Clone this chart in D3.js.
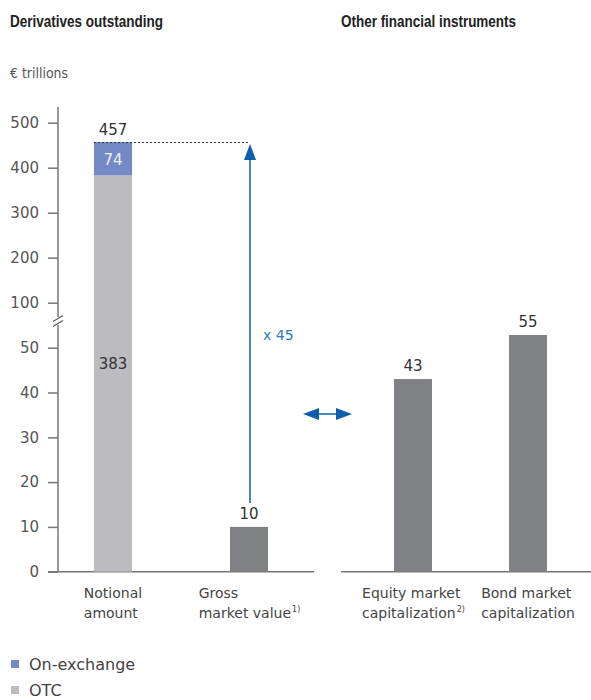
<!DOCTYPE html>
<html>
<head>
<meta charset="utf-8">
<script src="https://cdn.jsdelivr.net/npm/d3@7"></script>
<style>
  body { margin: 0; background: #fff; }
  svg text { font-family: "DejaVu Sans", sans-serif; }
  .title { font-family: "Liberation Sans", sans-serif !important; font-weight: bold; font-size: 16px; fill: #222; }
</style>
</head>
<body>
<div id="chart"></div>
<script>
// Data
const leftCategories = ["Notional amount", "Gross market value"];
const rightCategories = ["Equity market capitalization", "Bond market capitalization"];
const otcValues = [383, 0];
const exchangeValues = [74, 0];
const grossValues = [0, 10];
const otherValues = [43, 55];
const yTicks = [0, 10, 20, 30, 40, 50, 100, 200, 300, 400, 500];
const multiple = "x 45";

const labelLines = {
  "Notional amount": [["Notional"], ["amount"]],
  "Gross market value": [["Gross"], ["market value", "1)"]],
  "Equity market capitalization": [["Equity market"], ["capitalization", "2)"]],
  "Bond market capitalization": [["Bond market"], ["capitalization"]]
};

const colors = { exchange: "#7589c7", otc: "#bcbcc0", dark: "#808184", blue: "#0d5fae", blueText: "#2a7cc4" };

const width = 591, height = 700;

const svg = d3.select("#chart")
  .append("svg")
  .attr("width", width)
  .attr("height", height);

// Broken y scale: 0-50 linear, compressed break, then 100-500
const y = d3.scaleLinear()
  .domain([0, 50, 55, 100, 500])
  .range([571.7, 347.7, 335, 302.7, 122.7]);

const xLeft = d3.scaleBand()
  .domain(leftCategories)
  .range([48, 314])
  .paddingInner(0.72)
  .paddingOuter(0.338);

const xRight = d3.scaleBand()
  .domain(rightCategories)
  .range([341, 600])
  .paddingInner(0.67)
  .paddingOuter(0.461);

// Titles
svg.append("text").attr("class", "title").attr("x", 10).attr("y", 27)
  .attr("textLength", 153).attr("lengthAdjust", "spacingAndGlyphs").text("Derivatives outstanding");
svg.append("text").attr("class", "title").attr("x", 341).attr("y", 27)
  .attr("textLength", 175).attr("lengthAdjust", "spacingAndGlyphs").text("Other financial instruments");
svg.append("text").attr("x", 10).attr("y", 78).attr("font-size", 14.5).attr("fill", "#555")
  .attr("textLength", 58).attr("lengthAdjust", "spacingAndGlyphs").text("€ trillions");

// Y axis
const axisX = 58;
const axisG = svg.append("g")
  .attr("transform", `translate(${axisX},0)`)
  .call(d3.axisLeft(y).tickValues(yTicks).tickSize(10).tickPadding(9));
axisG.select(".domain").remove();
axisG.selectAll(".tick line").attr("stroke", "#777").attr("stroke-width", 1.5);
axisG.selectAll(".tick text")
  .attr("font-family", "DejaVu Sans, sans-serif")
  .attr("font-size", 15)
  .attr("fill", "#555");

// axis line with break
const breakY = 321;
svg.append("line").attr("x1", axisX).attr("x2", axisX).attr("y1", y(0)).attr("y2", breakY + 4)
  .attr("stroke", "#777").attr("stroke-width", 1.5);
svg.append("line").attr("x1", axisX).attr("x2", axisX).attr("y1", breakY - 4).attr("y2", 107)
  .attr("stroke", "#777").attr("stroke-width", 1.5);
[-2.5, 2.5].forEach(off => {
  svg.append("line")
    .attr("x1", axisX - 5).attr("y1", breakY + off + 3)
    .attr("x2", axisX + 5).attr("y2", breakY + off - 3)
    .attr("stroke", "#555").attr("stroke-width", 1.1);
});

// baselines
svg.append("line").attr("x1", 48).attr("x2", 314).attr("y1", y(0)).attr("y2", y(0))
  .attr("stroke", "#777").attr("stroke-width", 1.5);
svg.append("line").attr("x1", 341).attr("x2", 591).attr("y1", y(0)).attr("y2", y(0))
  .attr("stroke", "#777").attr("stroke-width", 1.5);

// Left bars: stacked notional
const leftG = svg.append("g");
leftCategories.forEach((c, i) => {
  const x0 = xLeft(c), bw = xLeft.bandwidth();
  if (otcValues[i] > 0) {
    leftG.append("rect").attr("x", x0).attr("width", bw)
      .attr("y", y(otcValues[i])).attr("height", y(0) - y(otcValues[i]))
      .attr("fill", colors.otc);
    const top = otcValues[i] + exchangeValues[i];
    leftG.append("rect").attr("x", x0).attr("width", bw)
      .attr("y", y(top)).attr("height", y(otcValues[i]) - y(top))
      .attr("fill", colors.exchange);
    leftG.append("text").attr("x", x0 + bw / 2).attr("y", (y(top) + y(otcValues[i])) / 2 + 6)
      .attr("text-anchor", "middle").attr("font-size", 15).attr("fill", "#eef0f8")
      .text(exchangeValues[i]);
    leftG.append("text").attr("x", x0 + bw / 2).attr("y", y(46.4) + 5.5)
      .attr("text-anchor", "middle").attr("font-size", 15).attr("fill", "#333")
      .text(otcValues[i]);
    leftG.append("text").attr("x", x0 + bw / 2).attr("y", y(top) - 7)
      .attr("text-anchor", "middle").attr("font-size", 15).attr("fill", "#333")
      .text(top);
  }
  if (grossValues[i] > 0) {
    leftG.append("rect").attr("x", x0).attr("width", bw)
      .attr("y", y(grossValues[i])).attr("height", y(0) - y(grossValues[i]))
      .attr("fill", colors.dark);
    leftG.append("text").attr("x", x0 + bw / 2).attr("y", y(grossValues[i]) - 8)
      .attr("text-anchor", "middle").attr("font-size", 15).attr("fill", "#333")
      .text(grossValues[i]);
  }
});

// Right bars
svg.append("g").selectAll("rect")
  .data(rightCategories)
  .join("rect")
  .attr("x", d => xRight(d))
  .attr("width", xRight.bandwidth())
  .attr("y", (d, i) => y(otherValues[i]))
  .attr("height", (d, i) => y(0) - y(otherValues[i]))
  .attr("fill", colors.dark);
svg.append("g").selectAll("text")
  .data(rightCategories)
  .join("text")
  .attr("x", d => xRight(d) + xRight.bandwidth() / 2)
  .attr("y", (d, i) => y(otherValues[i]) - 8)
  .attr("text-anchor", "middle").attr("font-size", 15).attr("fill", "#333")
  .text((d, i) => otherValues[i]);

// Category labels: left aligned lines, block centred on bar
function catLabel(scale, c) {
  const cx = scale(c) + scale.bandwidth() / 2;
  const g = svg.append("g");
  const lines = labelLines[c];
  const texts = lines.map((parts, li) => {
    const t = g.append("text").attr("y", 598 + li * 20).attr("font-size", 14).attr("fill", "#444");
    t.append("tspan").text(parts[0]);
    if (parts[1]) {
      t.append("tspan").attr("font-size", 8).attr("dx", 1).attr("dy", -6).text(parts[1]);
    }
    return t;
  });
  const w = d3.max(texts, t => t.node().getComputedTextLength());
  texts.forEach(t => t.attr("x", cx - w / 2));
}
leftCategories.forEach(c => catLabel(xLeft, c));
rightCategories.forEach(c => catLabel(xRight, c));

// Dotted line from top of notional bar to arrow
const totalTop = otcValues[0] + exchangeValues[0];
const arrowX = xLeft(leftCategories[1]) + xLeft.bandwidth() / 2 + 1;
svg.append("line")
  .attr("x1", xLeft(leftCategories[0])).attr("x2", arrowX)
  .attr("y1", y(totalTop) + 0.5).attr("y2", y(totalTop) + 0.5)
  .attr("stroke", "#333").attr("stroke-width", 1).attr("stroke-dasharray", "2,2");

// Vertical arrow
svg.append("line")
  .attr("x1", arrowX).attr("x2", arrowX)
  .attr("y1", y(grossValues[1]) - 24).attr("y2", y(totalTop) + 16)
  .attr("stroke", colors.blue).attr("stroke-width", 1.5);
const tipY = y(totalTop) + 2;
svg.append("path")
  .attr("d", `M${arrowX},${tipY} L${arrowX - 6},${tipY + 16} L${arrowX + 6},${tipY + 16} Z`)
  .attr("fill", colors.blue);
svg.append("text").attr("x", arrowX + 13).attr("y", 340)
  .attr("font-size", 14).attr("fill", colors.blueText).text(multiple);

// Double arrow between panels
const dy = 414, dx0 = 303, dx1 = 352;
svg.append("line").attr("x1", dx0 + 10).attr("x2", dx1 - 10).attr("y1", dy).attr("y2", dy)
  .attr("stroke", colors.blue).attr("stroke-width", 1.5);
svg.append("path")
  .attr("d", `M${dx0},${dy} L${dx0 + 16},${dy - 6} L${dx0 + 16},${dy + 6} Z M${dx1},${dy} L${dx1 - 16},${dy - 6} L${dx1 - 16},${dy + 6} Z`)
  .attr("fill", colors.blue);

// Legend
const legend = [["On-exchange", colors.exchange], ["OTC", colors.otc]];
legend.forEach((d, i) => {
  svg.append("rect").attr("x", 11).attr("y", 660 + i * 26).attr("width", 8).attr("height", 8).attr("fill", d[1]);
  svg.append("text").attr("x", 29).attr("y", 670 + i * 26).attr("font-size", 16).attr("fill", "#444").text(d[0]);
});
</script>
</body>
</html>
